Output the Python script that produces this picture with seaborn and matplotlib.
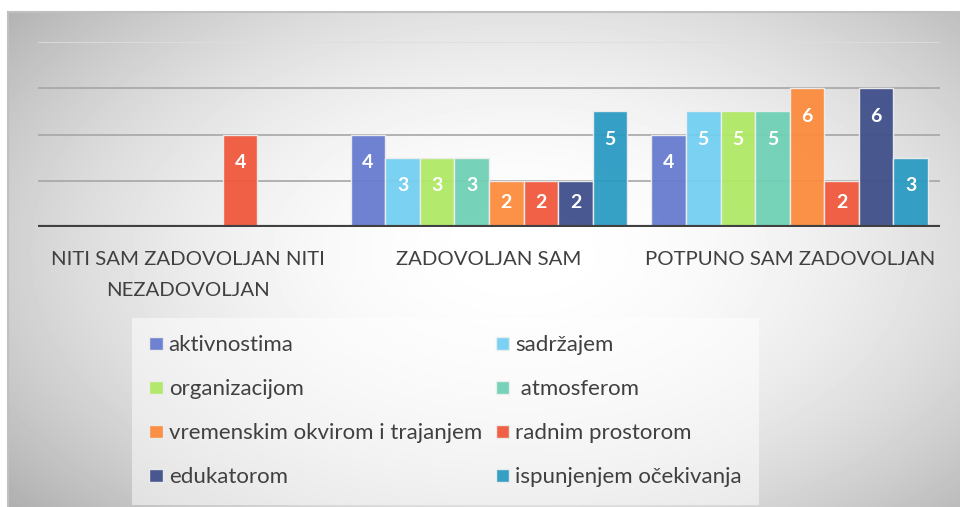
import numpy as np
import pandas as pd
import matplotlib.pyplot as plt
import seaborn as sns

categories = ["NITI SAM ZADOVOLJAN NITI\nNEZADOVOLJAN", "ZADOVOLJAN SAM", "POTPUNO SAM ZADOVOLJAN"]
series = ["aktivnostima", "sadržajem", "organizacijom", " atmosferom",
          "vremenskim okvirom i trajanjem", "radnim prostorom", "edukatorom",
          "ispunjenjem očekivanja"]

aktivnostima = [0, 4, 4]
sadrzajem = [0, 3, 5]
organizacijom = [0, 3, 5]
atmosferom = [0, 3, 5]
vremenskim_okvirom = [0, 2, 6]
radnim_prostorom = [4, 2, 2]
edukatorom = [0, 2, 6]
ispunjenjem_ocekivanja = [0, 5, 3]

colors = ["#667BCF", "#72CFF2", "#AFE965", "#6ED1B5",
          "#FB8B3B", "#F0573C", "#3F4E8A", "#2A9AC2"]

all_values = [aktivnostima, sadrzajem, organizacijom, atmosferom,
              vremenskim_okvirom, radnim_prostorom, edukatorom, ispunjenjem_ocekivanja]

rows = []
for name, vals in zip(series, all_values):
    for cat, v in zip(categories, vals):
        rows.append({"kategorija": cat, "serija": name, "broj": v})
df = pd.DataFrame(rows)

sns.set_style("white")
plt.rcParams["font.family"] = ["Lato", "DejaVu Sans"]

fig = plt.figure(figsize=(9.6, 5.07), dpi=100)
fig.patch.set_facecolor("white")

# radial gradient background of the chart area
bg = fig.add_axes([8 / 960, 0, 1 - 8 / 960, 1 - 12 / 507], zorder=0)
yy, xx = np.mgrid[0:495, 0:952]
d = np.sqrt(((xx - 512) / 560.0) ** 2 + ((yy - 240) / 330.0) ** 2)
shade = 1 - 0.22 * np.clip(d, 0, 1.3) ** 2
bg.imshow(shade, cmap="gray", vmin=0, vmax=1, aspect="auto", interpolation="bilinear")
bg.set_xticks([])
bg.set_yticks([])
for s in ["right", "bottom"]:
    bg.spines[s].set_visible(False)
for s in ["top", "left"]:
    bg.spines[s].set_color("#c0c0c0")
    bg.spines[s].set_linewidth(1.5)

ax = fig.add_axes([38 / 960, 280 / 507, 902 / 960, 185 / 507], zorder=1)
ax.patch.set_alpha(0)

for v, c in zip([2, 4, 6, 8], ["#a6a6a6", "#a6a6a6", "#a6a6a6", "#dedede"]):
    ax.axhline(v, color=c, lw=1.2, zorder=0)

sns.barplot(data=df, x="kategorija", y="broj", hue="serija", palette=colors,
            width=0.92, saturation=1, alpha=0.94, edgecolor="#eeeeee",
            linewidth=1, ax=ax, zorder=2)

leg = ax.get_legend()
handles = leg.legend_handles
labels = [t.get_text() for t in leg.get_texts()]
leg.remove()

ax.set_ylim(0, 8)
ax.set_xlim(-0.5, 2.5)

for cont in ax.containers:
    for bar in cont:
        h = bar.get_height()
        if h > 0:
            bar_px = ax.transData.transform((0, h))[1] - ax.transData.transform((0, 0))[1]
            off_px = min(28, bar_px * 0.46)
            ax.annotate(f"{int(h)}", (bar.get_x() + bar.get_width() / 2, h),
                        xytext=(0, -off_px * 0.72), textcoords="offset points",
                        ha="center", va="center", color="white",
                        fontsize=14, fontweight="bold", zorder=4)

ax.axhline(0, color="#404040", lw=3, zorder=3)
ax.set_xlabel("")
ax.set_ylabel("")
ax.set_yticks([])
ax.tick_params(axis="x", length=0, pad=17, labelsize=14.7, labelcolor="#404040")
for t in ax.get_xticklabels():
    t.set_linespacing(2.05)
sns.despine(ax=ax, left=True, bottom=True)

# legend in row-major order, two columns
order = [0, 2, 4, 6, 1, 3, 5, 7]
lg = fig.legend([handles[i] for i in order], [labels[i] for i in order],
                loc="upper left", bbox_to_anchor=(132 / 960, 1 - 318 / 507),
                ncol=2, fontsize=16, frameon=True, fancybox=False,
                handlelength=0.6, handleheight=0.55, handletextpad=0.27,
                columnspacing=0.63, labelspacing=1.08, borderpad=0.78,
                borderaxespad=0)
lg.get_frame().set_facecolor("white")
lg.get_frame().set_alpha(0.5)
lg.get_frame().set_linewidth(0)
for t in lg.get_texts():
    t.set_color("#404040")

fig.savefig("out.png", dpi=100)
